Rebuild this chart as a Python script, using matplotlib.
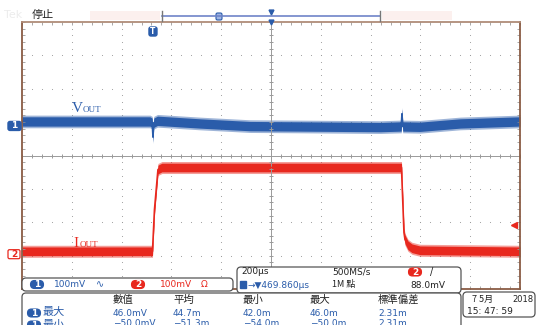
import numpy as np
import matplotlib
matplotlib.use("Agg")
import matplotlib.pyplot as plt
from matplotlib.patches import FancyBboxPatch, Rectangle

plt.rcParams['font.family'] = ['Noto Sans CJK TC', 'DejaVu Sans']

# trace data, in screen divisions (x: 0..10, y: -4..4)
vout_t = [0, 2.57, 2.615, 2.63, 2.645, 2.72, 3.57, 4.58, 5.58, 7.19, 7.615, 7.63, 7.645, 7.99, 8.80, 10]
vout_v = [1.02, 1.02, 0.98, 0.55, 0.98, 1.04, 0.96, 0.88, 0.87, 0.85, 0.87, 1.25, 0.87, 0.86, 0.96, 1.02]

iout_t = [0, 2.62, 2.66, 2.73, 2.81, 7.62, 7.67, 7.69, 7.75, 7.83, 7.99, 10]
iout_v = [-2.87, -2.87, -1.62, -0.42, -0.36, -0.36, -2.31, -2.51, -2.69, -2.78, -2.84, -2.87]

trig_t = 2.63
trig_level = -2.07
ch1_ref = 0.9
ch2_ref = -2.94

# readout texts
ch_scale = ['100mV', '100mV']
timebase = ['200µs', '500MS/s']
record = ['→▼469.860µs', '1M 點', '88.0mV']
meas_headers = ['數值', '平均', '最小', '最大', '標準偏差']
meas_row1 = ['46.0mV', '44.7m', '42.0m', '46.0m', '2.31m']
meas_row2 = ['−50.0mV', '−51.3m', '−54.0m', '−50.0m', '2.31m']

blue = '#2a5caa'
red = '#e8281e'
frame = '#8a5c44'
gray = '#9a9a9a'

fig = plt.figure(figsize=(5.37, 3.25), dpi=100)
ax = fig.add_axes([22/537, 1 - 289/325, 498/537, 267/325])
ax.set_xlim(0, 10)
ax.set_ylim(-4, 4)

# dotted graticule
fine_x = np.arange(0, 10.001, 0.2)
fine_y = np.arange(-4, 4.001, 0.2)
for i in range(1, 10):
    if i != 5:
        ax.scatter(np.full(len(fine_y), i), fine_y, s=0.6, color=gray, lw=0)
for j in range(-3, 4):
    if j != 0:
        ax.scatter(fine_x, np.full(len(fine_x), j), s=0.6, color=gray, lw=0)
ax.axhline(0, color=gray, lw=0.7)
ax.axvline(5, color=gray, lw=0.7)
ax.plot(fine_x, np.zeros(len(fine_x)), ls='none', marker='|', ms=3.5, mew=0.7, color=gray)
ax.plot(np.full(len(fine_y), 5), fine_y, ls='none', marker='_', ms=3.5, mew=0.7, color=gray)

ax.set_xticks(fine_x)
ax.set_yticks(fine_y)
ax.tick_params(direction='in', length=2.5, width=0.6, color=gray, top=True, right=True,
               labelbottom=False, labelleft=False)
for side in ['left', 'right', 'bottom']:
    ax.spines[side].set_color(frame)
    ax.spines[side].set_linewidth(1.3)
ax.spines['top'].set_color('#b08c78')
ax.spines['top'].set_linewidth(1.3)

# traces
vt = np.array(vout_t)
vv = np.array(vout_v)
ax.fill_between(vt, vv - 0.19, vv + 0.19, color=blue, alpha=0.45, lw=0)
ax.fill_between(vt, vv - 0.14, vv + 0.14, color=blue, lw=0)
ax.plot(vt, vv, color=blue, lw=1.2)

it = np.array(iout_t)
iv = np.array(iout_v)
ax.fill_between(it, iv - 0.18, iv + 0.18, color=red, alpha=0.45, lw=0)
ax.fill_between(it, iv - 0.13, iv + 0.13, color=red, lw=0)
ax.plot(it, iv, color=red, lw=1.2)

# trigger level arrow on the right edge
ax.plot([9.88], [trig_level], marker='<', ms=4, color=red, clip_on=False)

# overlay in pixel coordinates for the readouts
ov = fig.add_axes([0, 0, 1, 1], zorder=5)
ov.set_xlim(0, 537)
ov.set_ylim(325, 0)
ov.axis('off')
ov.patch.set_alpha(0)


def pill(x, y, label, color, filled=True, w=13, h=8):
    ov.add_patch(FancyBboxPatch((x - w/2, y - h/2), w, h, boxstyle='round,pad=0,rounding_size=4',
                                fc=color if filled else 'white', ec=color, lw=0.8))
    ov.text(x, y + 0.3, label, color='white' if filled else color, fontsize=6.5,
            ha='center', va='center', fontweight='bold', family=['DejaVu Sans'])


def box(x0, y0, x1, y1):
    ov.add_patch(FancyBboxPatch((x0, y0), x1 - x0, y1 - y0, boxstyle='round,pad=0,rounding_size=4',
                                fc='white', ec='#555555', lw=0.9))


# top status line
ov.text(4, 15, 'Tek', color='#ececec', fontsize=8, va='center', family=['DejaVu Sans'])
ov.text(32, 15, '停止', color='#222222', fontsize=8, va='center')
ov.add_patch(Rectangle((90, 11), 70, 9, fc='#fcf0ee', ec='none'))
ov.add_patch(Rectangle((382, 11), 70, 9, fc='#fcf0ee', ec='none'))
ov.plot([162, 380], [16, 16], color='#6f84c8', lw=1.2)
ov.plot([162, 162], [11, 21], color='#777777', lw=1)
ov.plot([380, 380], [11, 21], color='#777777', lw=1)
ov.add_patch(FancyBboxPatch((216, 13), 6, 7, boxstyle='round,pad=0,rounding_size=1.5',
                            fc='#9fb4e4', ec=blue, lw=0.8))
ov.plot([271], [12], marker='v', ms=3.5, color=blue)
ov.plot([271], [22], marker='v', ms=3.5, color=blue)

# trigger position marker
tx = 22 + trig_t * 49.8
ov.add_patch(FancyBboxPatch((tx - 4, 27), 8, 9, boxstyle='round,pad=0,rounding_size=2',
                            fc=blue, ec=blue))
ov.text(tx, 31.5, 'T', color='white', fontsize=5.5, ha='center', va='center', fontweight='bold',
        family=['DejaVu Sans'])

# channel reference markers
y1 = 156 - ch1_ref * 33.4
y2 = 156 - ch2_ref * 33.4
ov.add_patch(FancyBboxPatch((8, y1 - 4.5), 13, 9, boxstyle='round,pad=0,rounding_size=2',
                            fc=blue, ec=blue))
ov.text(14, y1, '1', color='white', fontsize=6.5, ha='center', va='center', fontweight='bold',
        family=['DejaVu Sans'])
ov.add_patch(FancyBboxPatch((8, y2 - 4.5), 12, 9, boxstyle='round,pad=0,rounding_size=1.5',
                            fc='white', ec=red, lw=0.9))
ov.text(14, y2, '2', color=red, fontsize=6.5, ha='center', va='center', fontweight='bold',
        family=['DejaVu Sans'])

# trace labels
ov.text(72, 112, 'V', color=blue, fontsize=11, family=['Liberation Serif'], va='baseline')
ov.text(83, 112, 'OUT', color=blue, fontsize=6.5, family=['Liberation Serif'], va='baseline')
ov.text(73, 247, 'I', color=red, fontsize=11, family=['Liberation Serif'], va='baseline')
ov.text(80, 247, 'OUT', color=red, fontsize=6.5, family=['Liberation Serif'], va='baseline')

# channel scale box
box(22, 278, 233, 291)
pill(37, 284.5, '1', blue)
ov.text(54, 284.5, ch_scale[0], color=blue, fontsize=6.5, va='center', family=['DejaVu Sans'])
ov.text(96, 284.5, '∿', color=blue, fontsize=7, va='center', family=['DejaVu Sans'])
pill(138, 284.5, '2', red)
ov.text(160, 284.5, ch_scale[1], color=red, fontsize=6.5, va='center', family=['DejaVu Sans'])
ov.text(201, 284.5, 'Ω', color=red, fontsize=6.5, va='center', family=['DejaVu Sans'])

# timebase box
box(237, 267, 461, 293)
ov.text(241, 272, timebase[0], color='#222222', fontsize=6.5, va='center', family=['DejaVu Sans'])
ov.text(332, 272, timebase[1], color='#222222', fontsize=6.5, va='center', family=['DejaVu Sans'])
pill(415, 272, '2', red)
ov.text(430, 272, '/', color='#222222', fontsize=7, va='center', family=['DejaVu Sans'])
ov.add_patch(Rectangle((240, 281), 6, 7, fc=blue, ec=blue))
ov.text(247, 285, record[0], color=blue, fontsize=6.5, va='center', family=['DejaVu Sans'])
ov.text(332, 285, record[1], color='#222222', fontsize=6.5, va='center')
ov.text(410, 285, record[2], color='#222222', fontsize=6.5, va='center', family=['DejaVu Sans'])

# measurement box (second row is cut by the screen edge, as on the scope)
box(22, 293, 461, 335)
col_x = [113, 173, 243, 310, 378]
for x, h in zip(col_x, meas_headers):
    ov.text(x, 300, h, color='#222222', fontsize=7.5, va='center')
pill(34, 313, '1', blue)
ov.text(43, 312.5, '最大', color=blue, fontsize=8, va='center')
pill(34, 325, '1', blue)
ov.text(43, 324.5, '最小', color=blue, fontsize=8, va='center')
for x, a, b in zip(col_x, meas_row1, meas_row2):
    ov.text(x, 313, a, color=blue, fontsize=6.5, va='center', family=['DejaVu Sans'])
    ov.text(x, 323.5, b, color=blue, fontsize=6.5, va='center', family=['DejaVu Sans'])

# date box
box(463, 292, 535, 317)
ov.text(472, 299, '7 5月', color='#222222', fontsize=6.5, va='center')
ov.text(512, 299, '2018', color='#222222', fontsize=6, va='center', family=['DejaVu Sans'])
ov.text(467, 311, '15: 47: 59', color='#222222', fontsize=6.5, va='center', family=['DejaVu Sans'])

fig.savefig('out.png', dpi=100)
